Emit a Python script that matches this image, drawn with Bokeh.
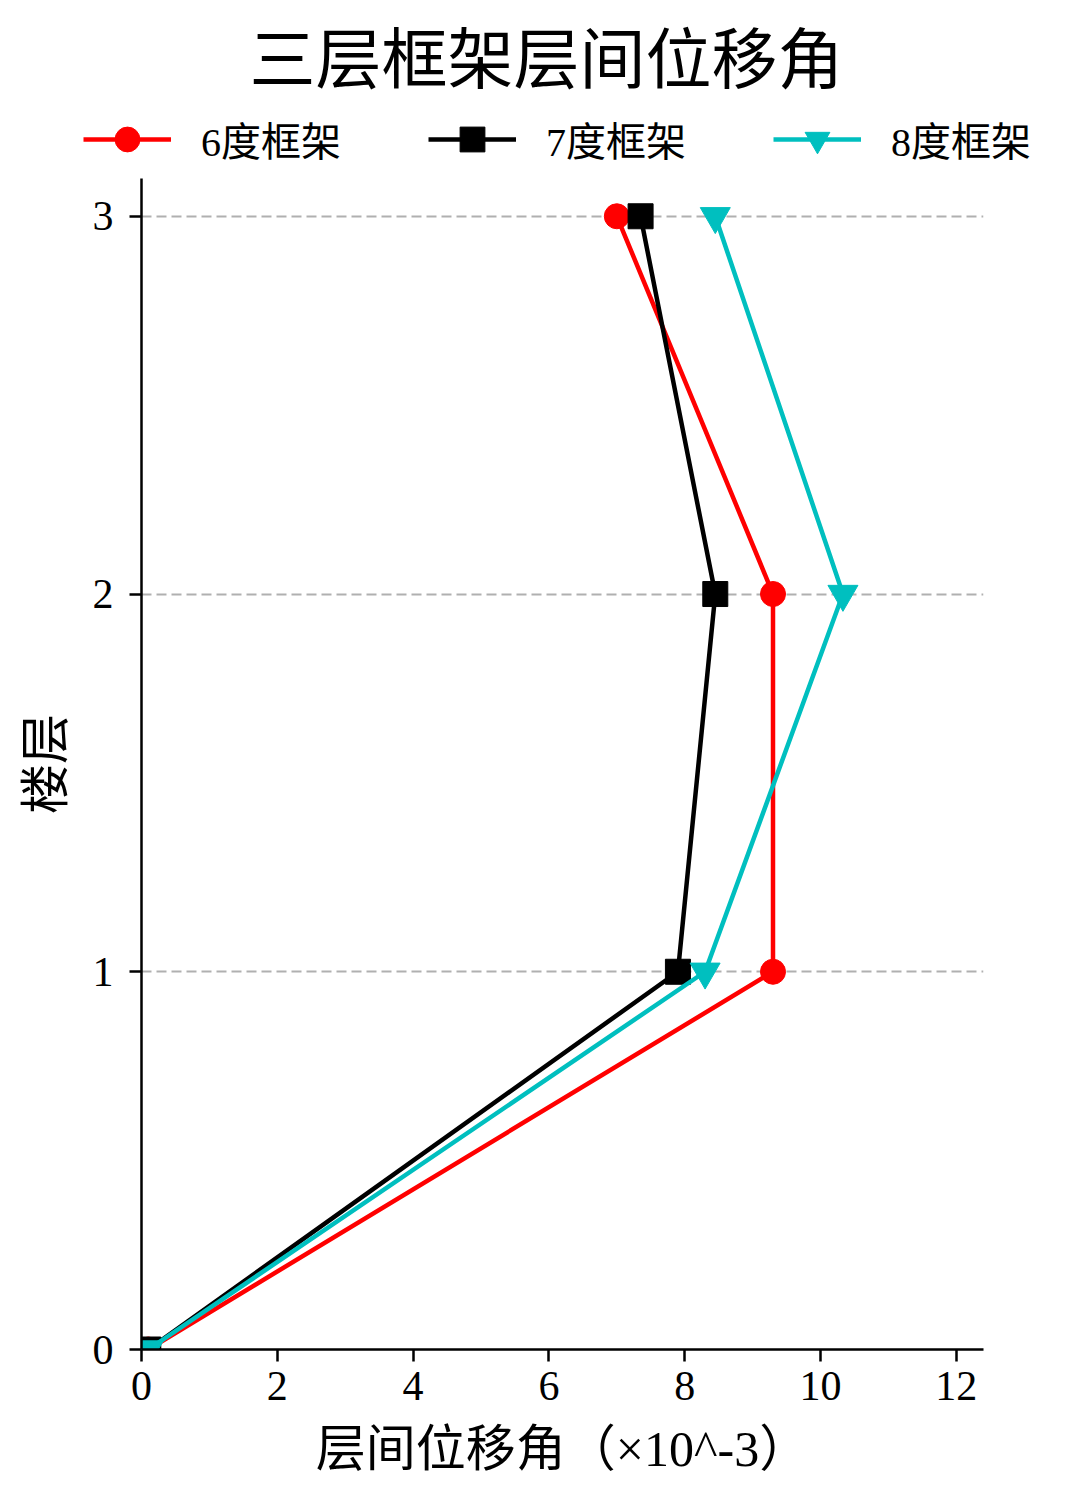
from bokeh.plotting import figure
from bokeh.models import Range1d, FixedTicker, Legend, LegendItem, Label
from bokeh.embed import file_html
from bokeh.resources import INLINE

floors = [0, 1, 2, 3]
drift_6 = [0.1, 9.3, 9.3, 7.0]
drift_7 = [0.1, 7.9, 8.45, 7.35]
drift_8 = [0.1, 8.3, 10.33, 8.45]
series_names = ["6度框架", "7度框架", "8度框架"]
title_text = "三层框架层间位移角"
x_label = "层间位移角（×10^-3）"
y_label = "楼层"
x_ticks = [0, 2, 4, 6, 8, 10, 12]
y_ticks = [0, 1, 2, 3]

FONT = "Liberation Serif, Noto Sans CJK SC"
W = 1064
HEADER_H = 178
MAIN_H = 1492 - HEADER_H

specs = [
    (drift_6, "#ff0000", "circle", 25),
    (drift_7, "#000000", "square", 25),
    (drift_8, "#00bfbf", "inverted_triangle", 30),
]

# ---------- header: title + legend ----------
h = figure(width=W, height=HEADER_H, output_backend="svg", toolbar_location=None,
           x_range=Range1d(-100, -99), y_range=Range1d(-100, -99),
           x_axis_type=None, y_axis_type=None,
           min_border_left=0, min_border_right=0, min_border_top=0, min_border_bottom=0)
h.outline_line_color = None
h.xgrid.grid_line_color = None
h.ygrid.grid_line_color = None
h.title.text = ""

h.add_layout(Label(x=546, y=HEADER_H - 60, x_units="screen", y_units="screen",
                   text=title_text, text_font=FONT, text_font_size="66px",
                   text_color="black", text_align="center", text_baseline="middle"))

items = []
for (xs, color, marker, size), name in zip(specs, series_names):
    l = h.line(xs, floors, line_color=color, line_width=4.5)
    s = h.scatter(xs, floors, marker=marker, size=size, fill_color=color, line_color=color)
    items.append(LegendItem(label=name, renderers=[l, s]))

legend = Legend(items=items, orientation="horizontal", location=(83, 8))
legend.label_text_font = FONT
legend.label_text_font_size = "40px"
legend.label_text_color = "black"
legend.glyph_width = 88
legend.glyph_height = 62
legend.label_standoff = 30
legend.spacing = 87
legend.padding = 5
legend.margin = 0
legend.border_line_color = None
legend.background_fill_alpha = 0
h.add_layout(legend, "center")

# ---------- main plot ----------
p = figure(width=W, height=MAIN_H, output_backend="svg", toolbar_location=None,
           x_range=Range1d(0, 12.4), y_range=Range1d(0, 3.1),
           min_border_left=141, min_border_right=81, min_border_top=0, min_border_bottom=143)
p.outline_line_color = None
p.background_fill_color = "white"
p.border_fill_color = "white"

p.xgrid.grid_line_color = None
p.ygrid.grid_line_color = "#b0b0b0"
p.ygrid.grid_line_dash = "10 5"
p.ygrid.grid_line_width = 2
p.ygrid.ticker = FixedTicker(ticks=y_ticks)

for ax in (p.xaxis, p.yaxis):
    ax.axis_line_width = 2.5
    ax.axis_line_color = "black"
    ax.major_tick_line_width = 2.5
    ax.major_tick_line_color = "black"
    ax.major_tick_out = 12
    ax.major_tick_in = 0
    ax.minor_tick_line_color = None
    ax.major_label_text_font = FONT
    ax.major_label_text_font_size = "42px"
    ax.major_label_text_color = "black"
    ax.axis_label_text_font = FONT
    ax.axis_label_text_font_size = "50px"
    ax.axis_label_text_font_style = "normal"
    ax.axis_label_text_color = "black"

p.xaxis.ticker = FixedTicker(ticks=x_ticks)
p.yaxis.ticker = FixedTicker(ticks=y_ticks)
p.xaxis.axis_label = x_label
p.yaxis.axis_label = y_label
p.xaxis.major_label_standoff = 10
p.yaxis.major_label_standoff = 16
p.xaxis.axis_label_standoff = 18
p.yaxis.axis_label_standoff = 16

for (xs, color, marker, size), name in zip(specs, series_names):
    p.line(xs, floors, line_color=color, line_width=4.5)
    p.scatter(xs, floors, marker=marker, size=size, fill_color=color, line_color=color)

open("out.html", "w").write(file_html([h, p], INLINE))
